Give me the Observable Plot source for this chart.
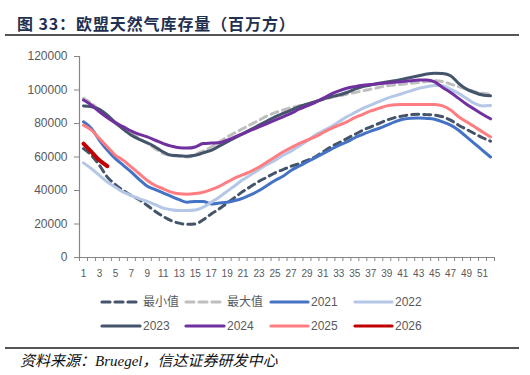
<!DOCTYPE html>
<html><head><meta charset="utf-8">
<script src="https://cdn.jsdelivr.net/npm/d3@7"></script>
<script src="https://cdn.jsdelivr.net/npm/@observablehq/plot@0.6"></script>
<style>
body{margin:0;background:#fff;width:530px;height:375px;position:relative;overflow:hidden;font-family:"Liberation Sans","Noto Sans CJK SC",sans-serif;}
#title{position:absolute;left:17px;top:11px;font:bold 16px "Noto Sans CJK SC",sans-serif;letter-spacing:0.9px;color:#1f3050;white-space:nowrap;}
.rule{position:absolute;left:5px;width:514px;height:2px;background:#555;}
#chart{position:absolute;left:0;top:45px;}
#legend{position:absolute;left:0;top:290px;}
#source{position:absolute;left:20px;top:349px;font:italic 15px "Liberation Serif","Noto Sans CJK SC",serif;color:#111;white-space:nowrap;}
</style>
</head><body>
<div id="title">图 33：欧盟天然气库存量（百万方）</div>
<div class="rule" style="top:34px"></div>
<div id="chart"></div>
<div id="legend"></div>
<div class="rule" style="top:347px;height:1.5px"></div>
<div id="source">资料来源：Bruegel，信达证券研发中心</div>
<script>
// ---- data (week 1..52, million m3) ----
const seriesNames = ["最小值","最大值","2021","2022","2023","2024","2025","2026"];
const minValues = [65000,61000,55000,48000,43500,40000,37000,34500,31000,27500,24500,22000,20500,19800,20000,22500,26000,29000,32500,36000,39500,42500,45500,48000,50500,52500,54500,56000,58000,60000,63000,66000,68500,71000,73500,76000,78000,80000,82000,83500,84500,85300,85500,85300,85000,84000,82000,79000,76500,74000,71500,69500];
const maxValues = [95000,92000,88000,84000,80000,77000,74000,71000,68000,65000,62000,61000,60500,60000,61500,63500,66000,69000,72000,74500,77000,79500,82000,84500,86500,88000,89500,90500,91500,93000,94500,95500,96500,97500,98500,99500,100500,101500,102500,103000,103500,104000,104500,105000,105500,105000,103500,102000,100500,99000,98000,97500];
const v2021 = [81000,77000,70000,64000,59000,55000,51000,46500,42500,40500,38500,36500,34500,33000,33500,33500,32000,32500,33000,34000,35500,37500,40000,43000,46000,48500,52000,54500,57000,59500,62000,64500,67000,69000,71500,73500,75500,77000,79000,81000,82500,83200,83300,83000,82500,81000,79000,76000,72000,68000,64000,60000];
const v2022 = [56500,53000,49000,45000,42000,39000,37000,35000,33500,31500,29500,28500,28000,28000,28300,30000,33000,36000,39500,43000,46500,49500,52500,55500,58000,61000,63500,66500,69500,73000,75500,78000,81000,84000,86500,89000,91000,93000,95000,96500,98000,99500,101000,102000,102700,102500,100500,98000,95000,92000,90500,90700];
const v2023 = [90500,90000,88500,85000,80500,76500,73000,70500,68500,66000,63000,61000,60800,60500,61000,62500,64000,66500,69000,71500,74000,76500,79000,81500,84000,86000,88000,90000,91500,93000,94500,96000,97000,98500,100500,102000,103000,104000,104800,105500,106500,107500,108500,109500,110000,109800,108500,104000,100500,98500,97000,96500];
const v2024 = [94000,91000,87000,83500,80500,78000,75500,73500,72000,70000,68000,66500,65500,65300,66000,68000,68300,68500,70000,72000,74000,76000,78000,80000,82000,84000,86000,88500,90500,92500,95000,97500,99500,101000,102000,102800,103300,103800,104200,104600,105000,105500,106000,106000,104800,101500,98500,95000,91500,88500,85500,82800];
const v2025 = [79000,76000,71000,66000,61000,58000,54000,50000,46000,43000,41000,39000,38000,37800,38200,39000,40500,42500,45000,47500,49500,51500,54000,57000,60000,63000,65500,68000,70000,72000,74500,77000,79000,81000,83500,85500,87500,89000,90500,91200,91400,91400,91400,91400,91300,90500,88000,84000,81000,78000,75000,72000];
const v2026 = [68000,63000,58000,54500];
const yTicks = [0,20000,40000,60000,80000,100000,120000];
const xLabels = d3.range(1,53,2);

// ---- styles ----
const styles = {
  "最小值":{color:"#44546A",width:3,dash:"7,5"},
  "最大值":{color:"#BFBFBF",width:3,dash:"7,5"},
  "2021":{color:"#4472C4",width:3},
  "2022":{color:"#B4C7E7",width:3},
  "2023":{color:"#44546A",width:3},
  "2024":{color:"#7030A0",width:3},
  "2025":{color:"#FF7C80",width:3},
  "2026":{color:"#C00000",width:4}
};
const allValues = [minValues,maxValues,v2021,v2022,v2023,v2024,v2025,v2026];
const rows = seriesNames.flatMap((n,k)=>allValues[k].map((v,i)=>({name:n,week:i+1,value:v})));

const lineMarks = seriesNames.map(n=>{
  const s = styles[n];
  return Plot.lineY(rows.filter(r=>r.name===n),{x:"week",y:"value",stroke:s.color,strokeWidth:s.width,
    strokeDasharray:s.dash||null,strokeLinecap:"round",strokeLinejoin:"round",curve:"monotone-x"});
});

const chart = Plot.plot({
  width:530,height:237,marginLeft:79,marginRight:36,marginTop:11,marginBottom:25,
  style:{fontFamily:"Liberation Sans, sans-serif",color:"#595959",background:"transparent"},
  x:{domain:[0.5,52.5],label:null},
  y:{domain:[0,120000],label:null},
  marks:[
    ...lineMarks,
    Plot.ruleY([0],{stroke:"#868686",strokeWidth:1.2}),
    Plot.ruleX([0.5],{stroke:"#868686",strokeWidth:1.2}),
    Plot.axisY({ticks:yTicks,tickSize:5,tickPadding:7,tickFormat:d=>String(d),fontSize:12,stroke:"#868686",strokeOpacity:1,fill:"#595959",label:null}),
    Plot.axisX({ticks:d3.range(0.5,53,1),tickSize:4,tickFormat:()=>"",stroke:"#868686",strokeOpacity:1,label:null}),
    Plot.axisX({ticks:xLabels,tickSize:0,tickPadding:12,tickFormat:d=>String(d),fontSize:10,fill:"#595959",label:null})
  ]
});
document.getElementById("chart").appendChild(chart);

// ---- legend ----
const legendItems = [
  {name:"最小值",x1:102,x2:136,tx:143,row:0},
  {name:"最大值",x1:186,x2:220,tx:227,row:0},
  {name:"2021",x1:271,x2:308,tx:311,row:0},
  {name:"2022",x1:355,x2:392,tx:395,row:0},
  {name:"2023",x1:102,x2:140,tx:143,row:1},
  {name:"2024",x1:186,x2:224,tx:227,row:1},
  {name:"2025",x1:271,x2:308,tx:311,row:1},
  {name:"2026",x1:355,x2:392,tx:395,row:1}
];
const lg = d3.select("#legend").append("svg").attr("width",530).attr("height",50);
const rowY = [12,36];
legendItems.forEach(it=>{
  const s = styles[it.name];
  lg.append("line").attr("x1",it.x1).attr("x2",it.x2).attr("y1",rowY[it.row]).attr("y2",rowY[it.row])
    .attr("stroke",s.color).attr("stroke-width",3.2).attr("stroke-linecap","round")
    .attr("stroke-dasharray",s.dash?"8,5":null);
  lg.append("text").attr("x",it.tx).attr("y",rowY[it.row]).attr("dy","0.35em")
    .attr("font-size",12).attr("fill","#595959")
    .attr("font-family","Liberation Sans, Noto Sans CJK SC, sans-serif").text(it.name);
});
</script>
</body></html>
